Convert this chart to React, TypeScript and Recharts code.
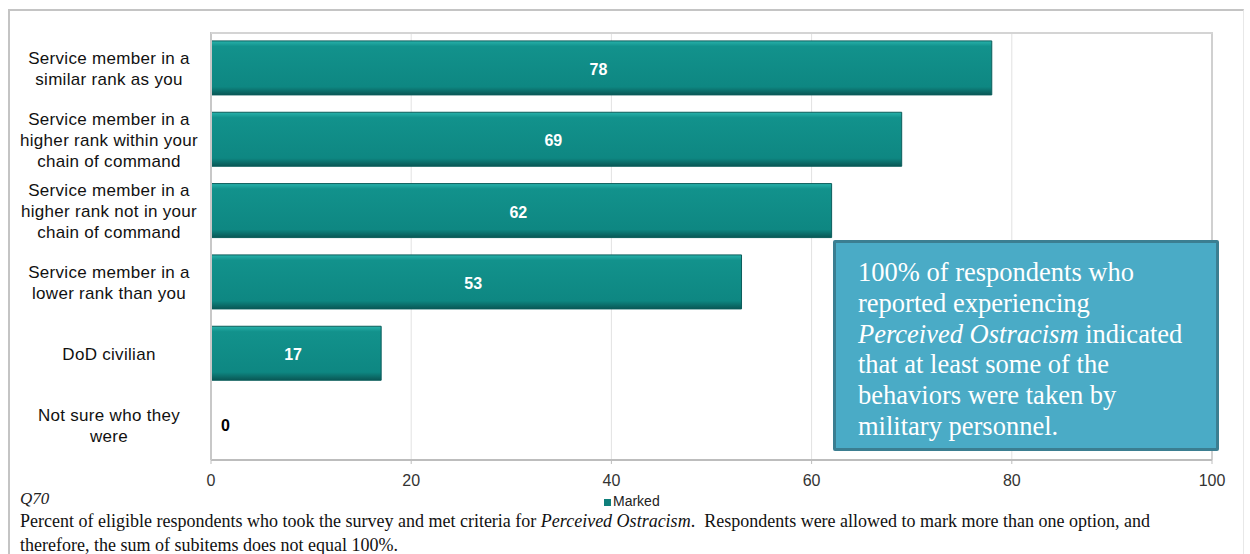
import React from "react";
import { BarChart, Bar, XAxis, YAxis, CartesianGrid, LabelList, ReferenceLine } from "recharts";

const categories: string[][] = [
  ["Service member in a", "similar rank as you"],
  ["Service member in a", "higher rank within your", "chain of command"],
  ["Service member in a", "higher rank not in your", "chain of command"],
  ["Service member in a", "lower rank than you"],
  ["DoD civilian"],
  ["Not sure who they", "were"],
];
const markedValues: number[] = [78, 69, 62, 53, 17, 0];
const xTicks: number[] = [0, 20, 40, 60, 80, 100];
const seriesName = "Marked";
const questionLabel = "Q70";
const noteLines = [
  "100% of respondents who",
  "reported experiencing",
  "__ITALIC__",
  "that at least some of the",
  "behaviors were taken by",
  "military personnel.",
];

const data = categories.map((c, i) => ({ key: String(i), lines: c, value: markedValues[i] }));

const W = 1250;
const H = 554;
const SANS = "Arial, 'Liberation Sans', sans-serif";
const SERIF = "'Times New Roman', 'Liberation Serif', serif";

const CategoryTick = (props: any) => {
  const { x, y, payload } = props;
  const idx = Number(payload.value);
  const lines = categories[idx] || [];
  const lh = 21;
  const start = y - ((lines.length - 1) * lh) / 2;
  const cx = x - 94;
  return (
    <g>
      <text x={cx} textAnchor="middle" fontFamily={SANS} fontSize={17} letterSpacing={0.3} fill="#111">
        {lines.map((l, i) => (
          <tspan key={i} x={cx} y={start + i * lh + 7}>
            {l}
          </tspan>
        ))}
      </text>
      {markedValues[idx] === 0 ? (
        <text x={x + 18} y={y + 7} fontFamily={SANS} fontSize={16} fontWeight="bold" fill="#000">
          {markedValues[idx]}
        </text>
      ) : null}
    </g>
  );
};

const ValueLabel = (props: any) => {
  const { x, y, width, height, value } = props;
  if (!value) return null;
  return (
    <text
      x={x + width / 2 - 3}
      y={y + height / 2 + 7}
      textAnchor="middle"
      fontFamily={SANS}
      fontSize={16}
      fontWeight="bold"
      fill="#ffffff"
    >
      {value}
    </text>
  );
};

export default function App() {
  return (
    <div style={{ position: "absolute", left: 0, top: 0, width: W, height: H, background: "#fff", overflow: "hidden" }}>
      <div
        style={{
          position: "absolute",
          left: 8,
          top: 9,
          width: 1236,
          height: 600,
          borderTop: "2px solid #c4c4c4",
          borderLeft: "2px solid #c4c4c4",
          borderRight: "1px solid #e8e8e8",
          boxSizing: "border-box",
        }}
      />
      <div style={{ position: "absolute", left: 0, top: 0 }}>
        <BarChart
          width={W}
          height={H}
          data={data}
          layout="vertical"
          margin={{ top: 32, right: 38, bottom: 0, left: 11 }}
          barCategoryGap="12.5%"
        >
          <defs>
            <linearGradient id="barGrad" x1="0" y1="0" x2="0" y2="1">
              <stop offset="0%" stopColor="#28b2ab" />
              <stop offset="10%" stopColor="#12928c" />
              <stop offset="85%" stopColor="#0e8782" />
              <stop offset="100%" stopColor="#095755" />
            </linearGradient>
          </defs>
          <CartesianGrid horizontal={false} stroke="#e2e2e2" />
          <XAxis
            type="number"
            domain={[0, 100]}
            ticks={xTicks}
            axisLine={{ stroke: "#bdbdbd", strokeWidth: 2 }}
            tickLine={{ stroke: "#bdbdbd" }}
            tickSize={4}
            tick={{ fontFamily: SANS, fontSize: 16, fill: "#333" }}
            height={94}
            tickMargin={11}
            interval={0}
          />
          <YAxis
            type="category"
            dataKey="key"
            width={200}
            axisLine={{ stroke: "#c8c8c8", strokeWidth: 2 }}
            tickLine={false}
            tick={<CategoryTick />}
            interval={0}
          />
          <ReferenceLine x={100} stroke="#d0d0d0" strokeWidth={2} />
          <Bar dataKey="value" name={seriesName} fill="url(#barGrad)" stroke="#0b5d5b" strokeWidth={1} isAnimationActive={false}>
            <LabelList dataKey="value" content={<ValueLabel />} />
          </Bar>
        </BarChart>
      </div>
      <div style={{ position: "absolute", left: 211, top: 32, width: 1002, height: 2, background: "#d4d4d4" }} />
      <div
        style={{
          position: "absolute",
          left: 604,
          top: 493,
          fontFamily: SANS,
          fontSize: 14,
          color: "#222",
          lineHeight: "16px",
          whiteSpace: "nowrap",
        }}
      >
        <span style={{ display: "inline-block", width: 7, height: 7, background: "#0f7f7b", marginRight: 2 }} />
        {seriesName}
      </div>
      <div
        style={{
          position: "absolute",
          left: 833,
          top: 240,
          width: 386,
          height: 211,
          background: "#4aabc6",
          border: "3px solid #3b7e91",
          borderRadius: 2,
          boxSizing: "border-box",
          padding: "14px 0 0 22px",
          fontFamily: SERIF,
          fontSize: 26.5,
          lineHeight: "30.8px",
          color: "#ffffff",
          whiteSpace: "nowrap",
        }}
      >
        {noteLines.map((l, i) =>
          l === "__ITALIC__" ? (
            <div key={i}>
              <i>Perceived Ostracism</i> indicated
            </div>
          ) : (
            <div key={i}>{l}</div>
          )
        )}
      </div>
      <div
        style={{
          position: "absolute",
          left: 20,
          top: 489,
          fontFamily: SERIF,
          fontStyle: "italic",
          fontSize: 17,
          color: "#222",
        }}
      >
        {questionLabel}
      </div>
      <div
        style={{
          position: "absolute",
          left: 20,
          top: 509,
          width: 1220,
          fontFamily: SERIF,
          fontSize: 18,
          lineHeight: "24px",
          color: "#111",
        }}
      >
        <div style={{ whiteSpace: "nowrap" }}>
          Percent of eligible respondents who took the survey and met criteria for <i>Perceived Ostracism</i>.&nbsp; Respondents were allowed to mark more than one option, and
        </div>
        <div style={{ whiteSpace: "nowrap" }}>therefore, the sum of subitems does not equal 100%.</div>
      </div>
    </div>
  );
}
